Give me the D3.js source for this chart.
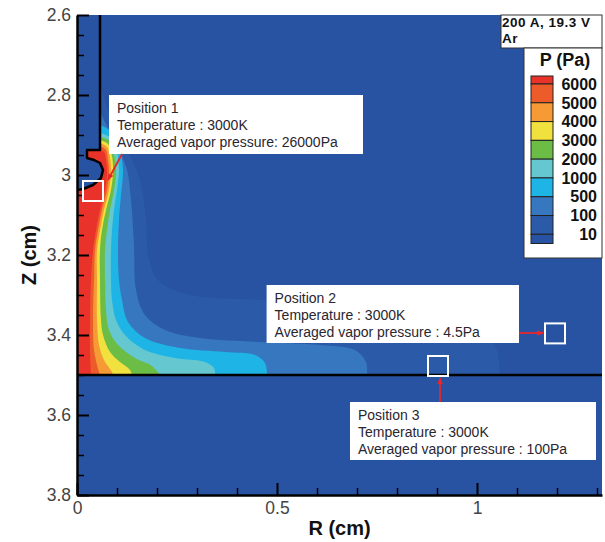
<!DOCTYPE html>
<html>
<head>
<meta charset="utf-8">
<script src="https://cdn.jsdelivr.net/npm/d3@7"></script>
<style>
  body { margin: 0; background: #fff; }
  text { font-family: "Liberation Sans", Arial, sans-serif; }
</style>
</head>
<body>
<div id="chart"></div>
<script>
// ---- data (r in cm, z in cm) ----
var levels = [10, 100, 500, 1000, 2000, 3000, 4000, 5000, 6000];
var levelColors = ["#2b5aa8", "#3677bf", "#1fb4e6", "#65c7cf", "#6bbd46", "#f1e13f", "#f59a34", "#ee5b2b", "#e8322a"];
var belowColor = "#2753a2";

var xTicks = [0, 0.5, 1];
var xTickLabels = ["0", "0.5", "1"];
var yTicks = [2.6, 2.8, 3.0, 3.2, 3.4, 3.6, 3.8];
var yTickLabels = ["2.6", "2.8", "3", "3.2", "3.4", "3.6", "3.8"];

// outer boundary of each pressure level, from the electrode down to the anode (z = 3.5)
var edge10 = [[0.0575,2.775],[0.0825,2.85],[0.12,2.925],[0.1575,3.0125],[0.1725,3.1125],[0.18,3.2125],
  [0.2075,3.2675],[0.2825,3.3],[0.4575,3.3125],[0.6825,3.325],[0.8825,3.35],[0.995,3.3825],[1.045,3.425],[1.0575,3.5]];
var edge100 = [[0.0575,2.8425],[0.0775,2.8825],[0.1025,2.9325],[0.125,2.9875],[0.135,3.0625],[0.1425,3.175],
  [0.1475,3.2875],[0.17,3.35],[0.22,3.3875],[0.3075,3.4075],[0.4575,3.4175],[0.6075,3.425],[0.695,3.4375],[0.7225,3.4675],[0.725,3.5]];
var edge500 = [[0.0575,2.875],[0.0875,2.8925],[0.1075,2.9375],[0.115,2.9875],[0.11,3.05],[0.105,3.1125],
  [0.1025,3.1875],[0.105,3.2625],[0.1125,3.3125],[0.1275,3.3675],[0.17,3.4075],[0.2575,3.4325],[0.37,3.4425],[0.445,3.45],[0.47,3.47],[0.475,3.5]];
var edge1000 = [[0.0575,2.895],[0.085,2.9075],[0.1,2.9425],[0.105,2.9875],[0.1,3.0375],[0.0925,3.0875],
  [0.0875,3.1375],[0.085,3.1875],[0.085,3.2625],[0.0875,3.3125],[0.0975,3.3625],[0.12,3.4],[0.17,3.4375],[0.245,3.4575],[0.32,3.4675],[0.3425,3.4825],[0.345,3.5]];
var edge2000 = [[0.0575,2.905],[0.0825,2.915],[0.0925,2.9475],[0.0975,2.9875],[0.0925,3.0375],[0.0825,3.0875],
  [0.075,3.1375],[0.07,3.1875],[0.07,3.2625],[0.0725,3.3375],[0.08,3.3875],[0.1025,3.425],[0.145,3.4575],[0.1875,3.4775],[0.2075,3.5]];
var edge3000 = [[0.0575,2.9125],[0.0775,2.9225],[0.0875,2.9525],[0.09,2.9925],[0.085,3.0375],[0.0725,3.0875],
  [0.0625,3.1375],[0.0575,3.1875],[0.0575,3.2625],[0.06,3.3625],[0.065,3.4],[0.0825,3.4425],[0.1075,3.4675],[0.1325,3.4875],[0.1375,3.5]];
var edge4000 = [[0.0575,2.92],[0.075,2.93],[0.0825,2.9575],[0.085,2.9925],[0.08,3.0375],[0.0675,3.0875],
  [0.0575,3.1375],[0.05,3.1875],[0.05,3.2625],[0.05,3.3625],[0.055,3.425],[0.0675,3.4625],[0.0875,3.4925],[0.09,3.5]];
var edge5000 = [[0.0575,2.9275],[0.0725,2.9375],[0.0775,2.9625],[0.08,2.9925],[0.075,3.0375],[0.0625,3.0875],
  [0.0525,3.1375],[0.045,3.1875],[0.0425,3.2625],[0.04,3.3625],[0.0425,3.4375],[0.05,3.475],[0.0575,3.5]];
var edge6000 = [[0.0575,2.9375],[0.0675,2.9425],[0.0725,2.9625],[0.075,2.9925],[0.07,3.0375],[0.0575,3.0875],
  [0.0475,3.1375],[0.04,3.1875],[0.035,3.2625],[0.0325,3.3625],[0.0325,3.4375],[0.035,3.5]];
var levelEdges = [edge10, edge100, edge500, edge1000, edge2000, edge3000, edge4000, edge5000, edge6000];

// tungsten electrode outline
var electrode = [[0,2.6],[0.0575,2.6],[0.0575,2.9375],[0.025,2.9375],[0.025,2.9575],[0.0425,2.9625],
  [0.0575,2.97],[0.065,2.9875],[0.06,3.0075],[0.04,3.025],[0.015,3.035],[0,3.0375]];
var anodeZ = 3.5;

// annotation boxes
var notes = [
  { lines: ["Position 1", "Temperature : 3000K", "Averaged vapor pressure: 26000Pa"],
    box: [0.08, 2.8, 0.715, 2.9475], mark: [0.04, 3.04], arrow: [[0.1125, 2.9475], [0.0775, 3.0125]] },
  { lines: ["Position 2", "Temperature : 3000K", "Averaged vapor pressure : 4.5Pa"],
    box: [0.474, 3.275, 1.105, 3.42], mark: [1.195, 3.396], arrow: [[1.105, 3.395], [1.166, 3.395]] },
  { lines: ["Position 3", "Temperature : 3000K", "Averaged vapor pressure : 100Pa"],
    box: [0.6825, 3.5675, 1.2975, 3.7125], mark: [0.9025, 3.4775], arrow: [[0.9075, 3.5675], [0.9075, 3.507]] }
];

var legendLabels = ["6000", "5000", "4000", "3000", "2000", "1000", "500", "100", "10"];
var caseLines = ["200 A, 19.3 V", "Ar"];

// ---- drawing ----
var w = 605, h = 542;
var plotLeft = 77, plotRight = 602, plotTop = 15, plotBottom = 495;

var svg = d3.select("#chart").append("svg")
  .attr("width", w).attr("height", h);

var xScale = d3.scaleLinear().domain([0, 1.3125]).range([plotLeft, plotRight]);
var yScale = d3.scaleLinear().domain([2.6, 3.8]).range([plotTop, plotBottom]);

var defs = svg.append("defs");
defs.append("clipPath").attr("id", "plotClip")
  .append("rect").attr("x", plotLeft).attr("y", plotTop)
  .attr("width", plotRight - plotLeft).attr("height", plotBottom - plotTop);

defs.append("marker")
  .attr("id", "arrowHead")
  .attr("viewBox", "0 0 10 10").attr("refX", 9).attr("refY", 5)
  .attr("markerWidth", 7).attr("markerHeight", 7)
  .attr("markerUnits", "userSpaceOnUse")
  .attr("orient", "auto")
  .append("path").attr("d", "M0,1 L10,5 L0,9 Z").attr("fill", "#e8262b");

var plot = svg.append("g").attr("clip-path", "url(#plotClip)");

// background (< 10 Pa)
plot.append("rect")
  .attr("x", plotLeft).attr("y", plotTop)
  .attr("width", plotRight - plotLeft).attr("height", plotBottom - plotTop)
  .attr("fill", belowColor);

var curve = d3.line()
  .x(function(d) { return xScale(d[0]); })
  .y(function(d) { return yScale(d[1]); })
  .curve(d3.curveCatmullRom.alpha(0.5));

var straight = d3.line()
  .x(function(d) { return xScale(d[0]); })
  .y(function(d) { return yScale(d[1]); });

// filled level regions, lowest first
levelEdges.forEach(function(edge, i) {
  var first = edge[0];
  var path = curve(edge) +
    "L" + xScale(0) + "," + yScale(anodeZ) +
    "L" + xScale(0) + "," + yScale(first[1]) + "Z";
  plot.append("path")
    .attr("d", path)
    .attr("fill", levelColors[i]);
});

// electrode
plot.append("path")
  .attr("d", straight(electrode) + "Z")
  .attr("fill", belowColor);
plot.append("path")
  .attr("d", straight(electrode.slice(1)))
  .attr("fill", "none").attr("stroke", "#000").attr("stroke-width", 2.5)
  .attr("stroke-linejoin", "round");

// anode surface
plot.append("line")
  .attr("x1", plotLeft).attr("x2", plotRight)
  .attr("y1", yScale(anodeZ)).attr("y2", yScale(anodeZ))
  .attr("stroke", "#000").attr("stroke-width", 2.5);

// axes
var yMinor = d3.range(2.65, 3.8, 0.05).filter(function(v) {
  return Math.abs(Math.round(v * 5) - v * 5) > 0.01;
});
var xMinor = d3.range(0.1, 1.31, 0.1).filter(function(v) {
  return Math.abs(Math.round(v * 2) - v * 2) > 0.01;
});

svg.append("g")
  .attr("transform", "translate(" + plotLeft + ",0)")
  .call(d3.axisLeft(yScale).tickValues(yMinor).tickSizeInner(-7).tickSizeOuter(0).tickFormat(""))
  .call(function(g) { g.select(".domain").remove(); g.selectAll("line").attr("stroke", "#000").attr("stroke-width", 1.5); });

svg.append("g")
  .attr("transform", "translate(0," + plotBottom + ")")
  .call(d3.axisBottom(xScale).tickValues(xMinor).tickSizeInner(-7).tickSizeOuter(0).tickFormat(""))
  .call(function(g) { g.select(".domain").remove(); g.selectAll("line").attr("stroke", "#000").attr("stroke-width", 1.5); });

var yAxis = svg.append("g")
  .attr("transform", "translate(" + plotLeft + ",0)")
  .call(d3.axisLeft(yScale).tickValues(yTicks).tickSizeInner(-12).tickSizeOuter(0).tickPadding(6)
    .tickFormat(function(d, i) { return yTickLabels[i]; }));

var xAxis = svg.append("g")
  .attr("transform", "translate(0," + plotBottom + ")")
  .call(d3.axisBottom(xScale).tickValues(xTicks).tickSizeInner(-12).tickSizeOuter(0).tickPadding(7)
    .tickFormat(function(d, i) { return xTickLabels[i]; }));

[yAxis, xAxis].forEach(function(g) {
  g.select(".domain").attr("stroke", "#000").attr("stroke-width", 2.5);
  g.selectAll(".tick line").attr("stroke", "#000").attr("stroke-width", 2);
  g.selectAll(".tick text")
    .attr("font-family", "Liberation Sans, Arial, sans-serif")
    .attr("font-size", 17.5).attr("fill", "#444");
});

svg.append("text")
  .attr("x", (plotLeft + plotRight) / 2).attr("y", 535)
  .attr("text-anchor", "middle")
  .attr("font-size", 20).attr("font-weight", "bold").attr("fill", "#111")
  .text("R (cm)");

svg.append("text")
  .attr("transform", "translate(36," + ((plotTop + plotBottom) / 2) + ") rotate(-90)")
  .attr("text-anchor", "middle")
  .attr("font-size", 20).attr("font-weight", "bold").attr("fill", "#111")
  .text("Z (cm)");

// annotations
notes.forEach(function(n) {
  var bx = xScale(n.box[0]), by = yScale(n.box[1]);
  var bw = xScale(n.box[2]) - bx, bh = yScale(n.box[3]) - by;
  svg.append("rect")
    .attr("x", bx).attr("y", by).attr("width", bw).attr("height", bh)
    .attr("fill", "#fff");
  n.lines.forEach(function(t, i) {
    svg.append("text")
      .attr("x", bx + 8).attr("y", by + 13 + i * 16.8)
      .attr("dy", "0.35em")
      .attr("font-size", 14).attr("fill", "#2a2630")
      .text(t);
  });
  svg.append("rect")
    .attr("x", xScale(n.mark[0]) - 10).attr("y", yScale(n.mark[1]) - 10)
    .attr("width", 20).attr("height", 20)
    .attr("fill", "none").attr("stroke", "#fff").attr("stroke-width", 2);
  svg.append("line")
    .attr("x1", xScale(n.arrow[0][0])).attr("y1", yScale(n.arrow[0][1]))
    .attr("x2", xScale(n.arrow[1][0])).attr("y2", yScale(n.arrow[1][1]))
    .attr("stroke", "#e8262b").attr("stroke-width", 1.8)
    .attr("marker-end", "url(#arrowHead)");
});

// case box
svg.append("rect")
  .attr("x", 501).attr("y", 15).attr("width", 101).attr("height", 33)
  .attr("fill", "#fff").attr("stroke", "#333").attr("stroke-width", 1);
caseLines.forEach(function(t, i) {
  svg.append("text")
    .attr("x", 502).attr("y", 22.5 + i * 15.5).attr("dy", "0.35em")
    .attr("font-size", 13.5).attr("font-weight", "bold").attr("fill", "#111")
    .attr("letter-spacing", 0.5)
    .text(t);
});

// legend
svg.append("rect")
  .attr("x", 524).attr("y", 48).attr("width", 78).attr("height", 210)
  .attr("fill", "#fff").attr("stroke", "#333").attr("stroke-width", 1);
svg.append("text")
  .attr("x", 565).attr("y", 66)
  .attr("text-anchor", "middle")
  .attr("font-size", 18).attr("font-weight", "bold").attr("fill", "#111")
  .text("P (Pa)");

var legendY = d3.scaleLinear().domain([0, legendLabels.length - 1]).range([84, 234.3]);
var legendColors = levelColors.slice().reverse().concat([belowColor]);
legendColors.forEach(function(c, i) {
  var y0 = i === 0 ? 76 : legendY(i - 1);
  var y1 = i === legendColors.length - 1 ? 243.5 : legendY(i);
  svg.append("rect")
    .attr("x", 531).attr("y", y0).attr("width", 22).attr("height", y1 - y0)
    .attr("fill", c).attr("stroke", "#222").attr("stroke-width", 1);
});
legendLabels.forEach(function(t, i) {
  svg.append("text")
    .attr("x", 597).attr("y", legendY(i)).attr("dy", "0.36em")
    .attr("text-anchor", "end")
    .attr("font-size", 16).attr("font-weight", "bold").attr("fill", "#111")
    .text(t);
});
</script>
</body>
</html>
